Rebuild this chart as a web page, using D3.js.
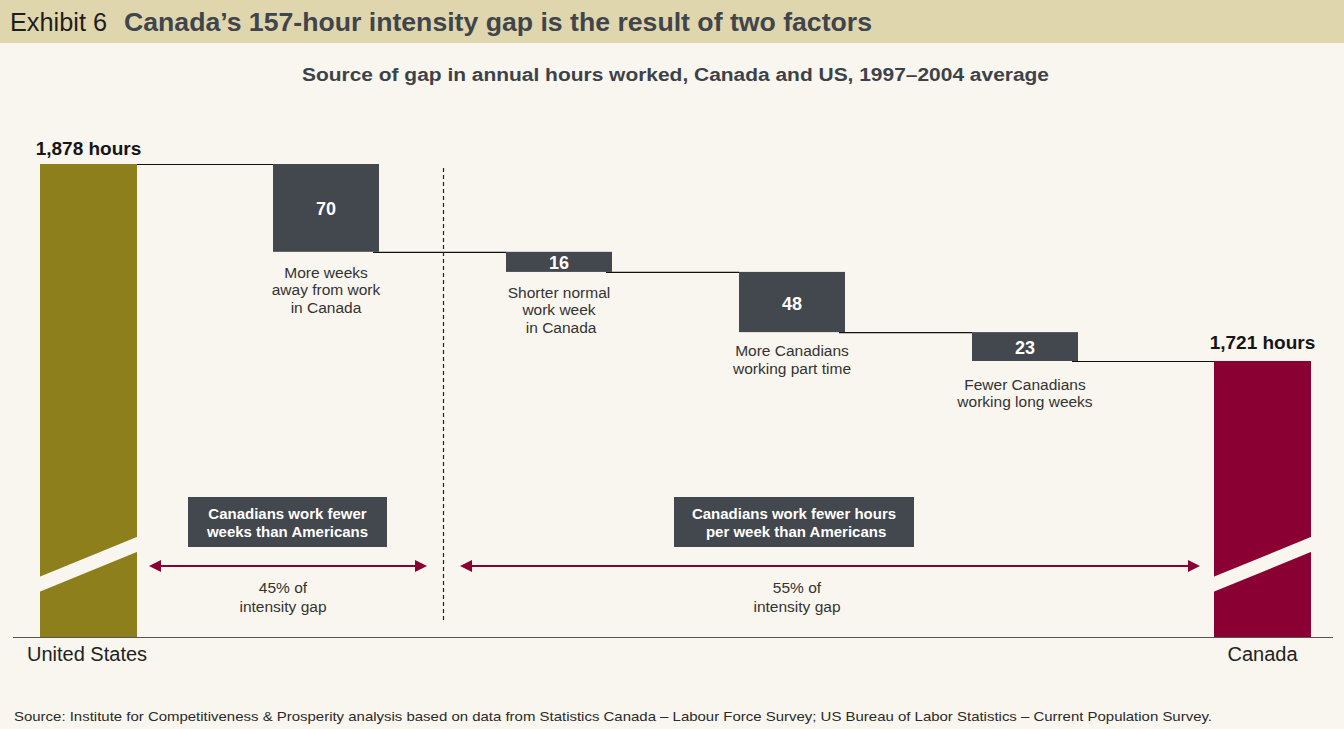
<!DOCTYPE html>
<html><head><meta charset="utf-8">
<script src="https://cdn.jsdelivr.net/npm/d3@7"></script>
<style>
html,body{margin:0;padding:0;background:#f9f6ef;}
svg{display:block;font-family:"Helvetica Neue",Helvetica,Arial,"Liberation Sans",sans-serif;}
</style></head>
<body>
<svg id="chart" width="1344" height="729"></svg>
<script>
// ---- data ----
const endLabels = ["United States", "Canada"];
const endValues = [1878, 1721];
const endValueLabels = ["1,878 hours", "1,721 hours"];
const stepValues = [70, 16, 48, 23];
const stepLabels = [
  ["More weeks", "away from work", "in Canada"],
  ["Shorter normal", "work week", " in Canada"],
  ["More Canadians", "working part time"],
  ["Fewer Canadians", "working long weeks"]
];
const groupTitles = [["Canadians work fewer", "weeks than Americans"], ["Canadians work fewer hours", " per week than Americans"]];
const groupShares = [["45% of", "intensity gap"], ["55% of", "intensity gap"]];
const titleLead = "Exhibit 6";
const titleText = "Canada\u2019s 157-hour intensity gap is the result of two factors";
const subtitleText = "Source of gap in annual hours worked, Canada and US, 1997\u20132004 average";
const sourceText = "Source: Institute for Competitiveness & Prosperity analysis based on data from Statistics Canada \u2013 Labour Force Survey; US Bureau of Labor Statistics \u2013 Current Population Survey.";

// ---- layout ----
const W = 1344, H = 729;
const svg = d3.select("#chart");
const C = {bg:"#f9f6ef", header:"#e0d6ae", us:"#8e7f1d", ca:"#8b0033", box:"#43474e", text:"#333"};

svg.append("rect").attr("width", W).attr("height", H).attr("fill", C.bg);
svg.append("rect").attr("x", 0).attr("y", 0).attr("width", W).attr("height", 43).attr("fill", C.header);
svg.append("text").attr("x", 10).attr("y", 31).attr("font-size", 25).attr("fill", "#1e1e1e")
  .attr("font-family", "'Liberation Sans Narrow','Arial Narrow',Arial,sans-serif")
  .attr("textLength", 97).attr("lengthAdjust", "spacingAndGlyphs").text(titleLead);
svg.append("text").attr("x", 124).attr("y", 31).attr("font-size", 25).attr("font-weight", "bold").attr("fill", "#40454b")
  .attr("font-family", "'Liberation Sans Narrow','Arial Narrow',Arial,sans-serif")
  .attr("textLength", 748).attr("lengthAdjust", "spacingAndGlyphs").text(titleText);

svg.append("text").attr("x", 675.5).attr("y", 81).attr("text-anchor", "middle").attr("font-size", 17.5)
  .attr("font-weight", "bold").attr("fill", "#3d4248")
  .attr("textLength", 747).attr("lengthAdjust", "spacingAndGlyphs").text(subtitleText);

svg.append("text").attr("x", 14).attr("y", 721).attr("font-size", 13).attr("fill", "#2a2a2a")
  .attr("textLength", 1198).attr("lengthAdjust", "spacingAndGlyphs").text(sourceText);

// scales
const baseY = 637;
const y = d3.scaleLinear().domain([1501, 1878]).range([baseY, 164]);
const xEnd = d3.scalePoint().domain(["US", "CA"]).range([88.5, 1262.5]);
const xStep = d3.scalePoint().domain(["s0", "s1", "s2", "s3"]).range([326, 1025]);
const x = k => (k === "US" || k === "CA") ? xEnd(k) : xStep(k);
const endW = 97, stepW = 106;

// compute waterfall
let running = endValues[0];
const steps = stepValues.map((v, i) => {
  const top = running, bottom = running - v;
  running = bottom;
  return {key: "s" + i, value: v, top, bottom, label: stepLabels[i]};
});

// connector lines
const g = svg.append("g");
const connectors = [];
connectors.push({x1: x("US") + endW / 2, x2: x("s0") - stepW / 2, v: endValues[0]});
steps.forEach((s, i) => {
  const nextKey = i < steps.length - 1 ? steps[i + 1].key : "CA";
  const nextHalf = i < steps.length - 1 ? stepW / 2 : endW / 2;
  connectors.push({x1: x(s.key) + stepW / 2 - 6, x2: x(nextKey) - nextHalf, v: s.bottom});
});
g.selectAll("line.conn").data(connectors).join("line").attr("class", "conn")
  .attr("x1", d => d.x1).attr("x2", d => d.x2).attr("y1", d => y(d.v) + 0.5).attr("y2", d => y(d.v) + 0.5)
  .attr("stroke", "#111").attr("stroke-width", 1.2);

// dashed divider between first and second steps
const divX = ((x("s0") + stepW / 2) + (x("s1") - stepW / 2)) / 2 + 1;
g.append("line").attr("x1", divX).attr("x2", divX).attr("y1", 168).attr("y2", 620)
  .attr("stroke", "#222").attr("stroke-width", 1.2).attr("stroke-dasharray", "4,3");

// end bars
const ends = endValues.map((v, i) => ({key: i === 0 ? "US" : "CA", value: v, label: endLabels[i], vlabel: endValueLabels[i], color: i === 0 ? C.us : C.ca}));
g.selectAll("rect.end").data(ends).join("rect").attr("class", "end")
  .attr("x", d => x(d.key) - endW / 2).attr("width", endW)
  .attr("y", d => y(d.value)).attr("height", d => baseY - y(d.value)).attr("fill", d => d.color);
// axis break bands
g.selectAll("path.brk").data(ends).join("path").attr("class", "brk")
  .attr("d", d => {
    const l = x(d.key) - endW / 2 - 1, r = x(d.key) + endW / 2 + 1;
    return `M${l},${baseY - 60}L${r},${baseY - 100.4}L${r},${baseY - 85.4}L${l},${baseY - 45}Z`;
  }).attr("fill", C.bg);
g.selectAll("text.vlab").data(ends).join("text").attr("class", "vlab")
  .attr("x", d => x(d.key)).attr("y", (d, i) => y(d.value) - (i === 0 ? 9 : 12)).attr("text-anchor", "middle")
  .attr("font-size", 19).attr("font-weight", "bold").attr("fill", "#151515").text(d => d.vlabel);
g.selectAll("text.cat").data(ends).join("text").attr("class", "cat")
  .attr("x", (d, i) => i === 0 ? 27 : x(d.key)).attr("y", 661)
  .attr("text-anchor", (d, i) => i === 0 ? "start" : "middle")
  .attr("font-size", 20).attr("fill", "#222").text(d => d.label);

// axis baseline
g.append("line").attr("x1", 13).attr("x2", 1333).attr("y1", baseY + 0.5).attr("y2", baseY + 0.5)
  .attr("stroke", "#555").attr("stroke-width", 1.2);

// step boxes
g.selectAll("rect.step").data(steps).join("rect").attr("class", "step")
  .attr("x", d => x(d.key) - stepW / 2).attr("width", stepW)
  .attr("y", d => y(d.top)).attr("height", d => y(d.bottom) - y(d.top)).attr("fill", C.box);
g.selectAll("text.sval").data(steps).join("text").attr("class", "sval")
  .attr("x", d => x(d.key)).attr("y", d => (y(d.top) + y(d.bottom)) / 2 + 7.5)
  .attr("text-anchor", "middle").attr("font-size", 18).attr("font-weight", "bold").attr("fill", "#fff")
  .text(d => d.value);
const labelGap = [26, 26, 24, 29];
steps.forEach((s, i) => {
  const t = g.append("text").attr("text-anchor", "middle").attr("font-size", 15.5).attr("fill", C.text);
  s.label.forEach((line, j) => {
    t.append("tspan").attr("x", x(s.key)).attr("y", y(s.bottom) + labelGap[i] + j * 17.5).text(line);
  });
});

// group annotations
const groups = [
  {cx: 287.5, w: 199, a1: 149, a2: 427, tx: 283},
  {cx: 794, w: 240, a1: 460, a2: 1200, tx: 797}
];
groups.forEach((gr, i) => {
  g.append("rect").attr("x", gr.cx - gr.w / 2).attr("y", 497).attr("width", gr.w).attr("height", 50).attr("fill", C.box);
  const t = g.append("text").attr("text-anchor", "middle").attr("font-size", 15).attr("font-weight", "bold").attr("fill", "#fff");
  groupTitles[i].forEach((line, j) => t.append("tspan").attr("x", gr.cx).attr("y", 519 + j * 18).text(line));
  g.append("line").attr("x1", gr.a1 + 10).attr("x2", gr.a2 - 10).attr("y1", 566).attr("y2", 566)
    .attr("stroke", C.ca).attr("stroke-width", 2);
  g.append("path").attr("d", `M${gr.a1},566L${gr.a1 + 12},560L${gr.a1 + 12},572Z`).attr("fill", C.ca);
  g.append("path").attr("d", `M${gr.a2},566L${gr.a2 - 12},560L${gr.a2 - 12},572Z`).attr("fill", C.ca);
  const s = g.append("text").attr("text-anchor", "middle").attr("font-size", 15.5).attr("fill", C.text);
  groupShares[i].forEach((line, j) => s.append("tspan").attr("x", gr.tx).attr("y", 593 + j * 18.5).text(line));
});
</script>
</body></html>
